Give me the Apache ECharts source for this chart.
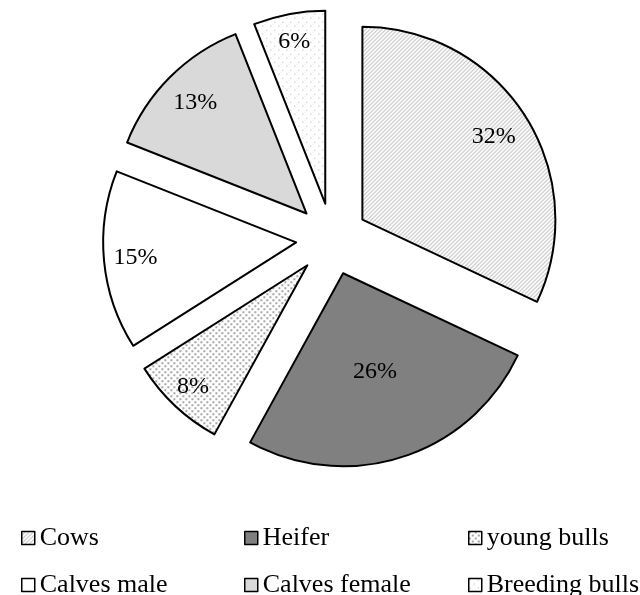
<!DOCTYPE html>
<html>
<head>
<meta charset="utf-8">
<script src="https://cdn.jsdelivr.net/npm/echarts@6/dist/echarts.min.js"></script>
<style>
  html, body { margin: 0; padding: 0; background: #fff; }
  #chart { width: 640px; height: 595px; }
</style>
</head>
<body>
<div id="chart"></div>
<script>
const categories = ['Cows', 'Heifer', 'young bulls', 'Calves male', 'Calves female', 'Breeding bulls']
const shares = [32, 26, 8, 15, 13, 6]

// how far out (fraction of radius) each label sits
const labelRadius = [0.79, 0.52, 0.85, 0.82, 0.80, 0.84]
// legend grid: column left edges and row centres
const legendCols = [16, 239, 463]
const legendRows = [533, 580]

const R = 193
const font = "'Liberation Serif', 'Times New Roman', serif"

const makePattern = (size, draw) => {
  const c = document.createElement('canvas')
  c.width = size
  c.height = size
  const ctx = c.getContext('2d')
  ctx.fillStyle = '#fff'
  ctx.fillRect(0, 0, size, size)
  draw(ctx)
  return { image: c, repeat: 'repeat' }
}

const fills = [
  makePattern(4, ctx => {
    ctx.fillStyle = '#a8a8a8'
    for (let i = 0; i < 4; i++) ctx.fillRect(i, 3 - i, 1, 1)
  }),
  '#808080',
  makePattern(6, ctx => {
    ctx.fillStyle = '#a6a6a6'
    ctx.fillRect(0, 0, 2, 2)
    ctx.fillRect(3, 3, 2, 2)
  }),
  '#ffffff',
  '#d9d9d9',
  makePattern(8, ctx => {
    ctx.fillStyle = '#b4b4b4'
    ctx.fillRect(1, 1, 1, 1)
    ctx.fillRect(5, 5, 1, 1)
  })
]

const total = shares.reduce((a, b) => a + b, 0)

const chart = echarts.init(document.getElementById('chart'), null, { renderer: 'canvas' })

const legends = categories.map((name, i) => ({
  data: [name],
  left: legendCols[i % 3],
  top: legendRows[Math.floor(i / 3)] - 13,
  orient: 'horizontal',
  selectedMode: false,
  icon: 'rect',
  itemWidth: 13,
  itemHeight: 13,
  itemStyle: { borderColor: '#000', borderWidth: 1.5 },
  textStyle: { fontFamily: font, fontSize: 26, color: '#000', lineHeight: 26 }
}))

const option = {
  animation: false,
  legend: legends,
  series: [{
    type: 'pie',
    center: [332, 239],
    radius: R,
    startAngle: 90,
    clockwise: true,
    selectedMode: 'multiple',
    selectedOffset: 36,
    avoidLabelOverlap: false,
    emphasis: { disabled: true },
    itemStyle: { borderColor: '#000', borderWidth: 2 },
    label: {
      show: true,
      position: 'inside',
      formatter: '{c}%',
      fontFamily: font,
      fontSize: 24,
      color: '#000'
    },
    labelLine: { show: false },
    labelLayout: params => {
      const i = params.dataIndex
      let before = 0
      for (let k = 0; k < i; k++) before += shares[k]
      const mid = (before + shares[i] / 2) / total * Math.PI * 2
      const shift = R * (labelRadius[i] - 0.5)
      return { dx: shift * Math.sin(mid), dy: -shift * Math.cos(mid) }
    },
    data: categories.map((name, i) => ({
      name,
      value: shares[i],
      selected: true,
      itemStyle: { color: fills[i] }
    }))
  }]
}

chart.setOption(option)
</script>
</body>
</html>
